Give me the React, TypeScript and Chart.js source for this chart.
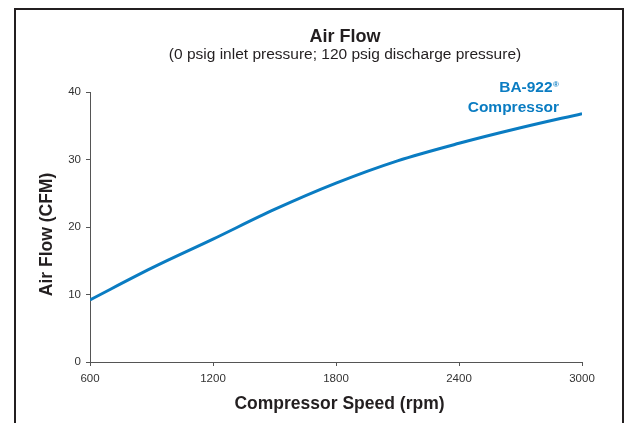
import React, { useEffect, useRef } from "react";
import { Chart, registerables } from "chart.js";

Chart.register(...registerables);

// ---- data ----
const speeds = [600, 900, 1200, 1500, 1800, 2100, 2400, 2700, 3000];
const airFlow = [9.2, 13.9, 18.2, 22.6, 26.5, 29.8, 32.4, 34.7, 36.8];
const xTicks = [600, 1200, 1800, 2400, 3000];
const yTicks = [0, 10, 20, 30, 40];
const titleText = "Air Flow";
const subtitleText = "(0 psig inlet pressure; 120 psig discharge pressure)";
const xTitleText = "Compressor Speed (rpm)";
const yTitleText = "Air Flow (CFM)";
const seriesName = "BA-922";
const seriesMark = "®";
const seriesName2 = "Compressor";

const FONT = '"Liberation Sans", Arial, Helvetica, sans-serif';
const BLUE = "#0a7cc2";
const INK = "#231f20";
const AXIS = "#555555";

const overlay = {
  id: "overlay",
  afterDraw(chart: any) {
    const { ctx, chartArea } = chart;
    ctx.save();
    ctx.fillStyle = INK;
    ctx.textAlign = "center";
    ctx.textBaseline = "alphabetic";
    ctx.font = `bold 18px ${FONT}`;
    ctx.fillText(titleText, 345, 42);
    ctx.font = `15.5px ${FONT}`;
    ctx.fillText(subtitleText, 345, 59);

    // x axis title
    ctx.font = `bold 17.5px ${FONT}`;
    ctx.fillText(xTitleText, 339.5, 409);

    // y axis title
    ctx.save();
    ctx.translate(52, 234.5);
    ctx.rotate(-Math.PI / 2);
    ctx.fillText(yTitleText, 0, 0);
    ctx.restore();

    // series label
    ctx.fillStyle = BLUE;
    ctx.textAlign = "right";
    const rx = chartArea.right - 23;
    ctx.font = `bold 8px ${FONT}`;
    const mw = ctx.measureText(seriesMark).width;
    ctx.fillText(seriesMark, rx, 87);
    ctx.font = `bold 15.5px ${FONT}`;
    ctx.fillText(seriesName, rx - mw - 0.5, 92.3);
    ctx.fillText(seriesName2, rx, 111.5);
    ctx.restore();
  },
};

export default function App() {
  const ref = useRef<HTMLCanvasElement | null>(null);

  useEffect(() => {
    document.body.style.margin = "0";
    const canvas = ref.current;
    if (!canvas) return;
    const chart = new Chart(canvas, {
      type: "line",
      data: {
        datasets: [
          {
            label: seriesName + " " + seriesName2,
            data: speeds.map((x, i) => ({ x, y: airFlow[i] })),
            borderColor: BLUE,
            backgroundColor: BLUE,
            borderWidth: 3,
            pointRadius: 0,
            cubicInterpolationMode: "monotone",
            fill: false,
          },
        ],
      },
      options: {
        animation: false,
        responsive: false,
        devicePixelRatio: 1,
        layout: { padding: { left: 0, right: 49, top: 92, bottom: 0 } },
        plugins: {
          legend: { display: false },
          tooltip: { enabled: false },
          title: { display: false },
        },
        scales: {
          x: {
            type: "linear",
            min: 600,
            max: 3000,
            afterBuildTicks: (s: any) => {
              s.ticks = xTicks.map((v) => ({ value: v }));
            },
            afterFit: (s: any) => {
              s.height = 61;
            },
            grid: {
              drawOnChartArea: false,
              drawTicks: true,
              tickLength: 4,
              color: AXIS,
            },
            border: { display: true, color: AXIS, width: 1 },
            ticks: {
              font: { family: FONT, size: 11.5 },
              color: "#333333",
              padding: 6,
              maxRotation: 0,
              autoSkip: false,
              callback: (v: any) => String(v),
            },
          },
          y: {
            type: "linear",
            min: 0,
            max: 40,
            afterBuildTicks: (s: any) => {
              s.ticks = yTicks.map((v) => ({ value: v }));
            },
            afterFit: (s: any) => {
              s.width = 90;
            },
            grid: {
              drawOnChartArea: false,
              drawTicks: true,
              tickLength: 4,
              color: AXIS,
            },
            border: { display: true, color: AXIS, width: 1 },
            ticks: {
              font: { family: FONT, size: 11.5 },
              color: "#333333",
              padding: 5,
              autoSkip: false,
              callback: (v: any) => String(v),
            },
          },
        },
      },
      plugins: [overlay],
    } as any);
    return () => chart.destroy();
  }, []);

  return (
    <div
      style={{
        position: "fixed",
        left: 0,
        top: 0,
        width: 631,
        height: 423,
        overflow: "hidden",
        background: "#ffffff",
      }}
    >
      <div
        style={{
          position: "absolute",
          left: 14,
          top: 8,
          width: 610,
          height: 460,
          boxSizing: "border-box",
          border: `2px solid ${INK}`,
        }}
      />
      <canvas
        ref={ref}
        width={631}
        height={423}
        style={{ position: "absolute", left: 0, top: 0, width: 631, height: 423 }}
      />
    </div>
  );
}
